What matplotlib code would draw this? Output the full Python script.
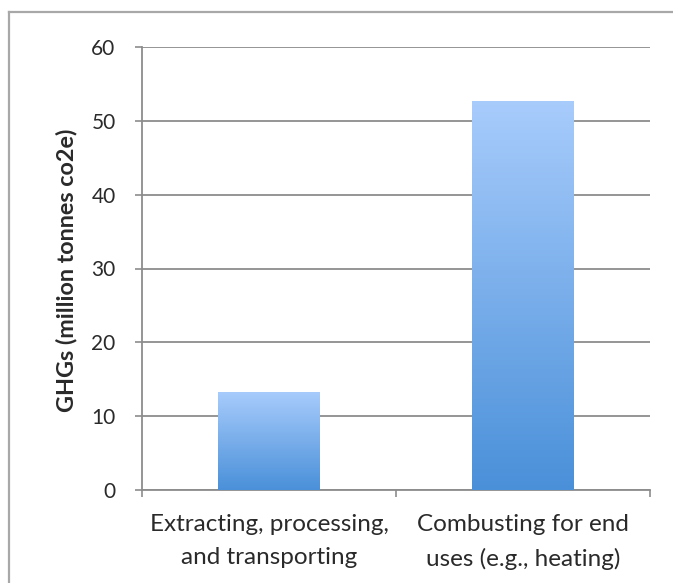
import matplotlib
matplotlib.use("Agg")
import matplotlib.pyplot as plt
import numpy as np
from matplotlib.colors import LinearSegmentedColormap
from matplotlib.lines import Line2D

categories = ["Extracting, processing,\nand transporting",
              "Combusting for end\nuses (e.g., heating)"]
values = [13.3, 52.7]
y_ticks = [0, 10, 20, 30, 40, 50, 60]
y_label = "GHGs (million tonnes co2e)"

plt.rcParams['font.family'] = ['Lato', 'DejaVu Sans']

fig = plt.figure(figsize=(6.73, 5.83), dpi=100)
fig.patch.set_facecolor('white')

# outer frame (left and top edges visible)
frame_col = '#a8a8a8'
fig.add_artist(Line2D([9/673, 9/673], [0, 1 - 12/583], transform=fig.transFigure, color=frame_col, lw=1.6))
fig.add_artist(Line2D([9/673, 1], [1 - 12/583, 1 - 12/583], transform=fig.transFigure, color=frame_col, lw=1.6))

ax = fig.add_axes([142/673, 1 - 490/583, (650 - 142)/673, (490 - 47)/583])

x = np.arange(len(categories))
bars = ax.bar(x, values, width=0.40, color='none', edgecolor='none', zorder=3)

cmap = LinearSegmentedColormap.from_list('g', ['#4a90d9', '#a8ccfc'])
grad = np.linspace(0, 1, 256).reshape(-1, 1)
for b in bars:
    x0, y0 = b.get_x(), b.get_y()
    w, h = b.get_width(), b.get_height()
    im = ax.imshow(grad, cmap=cmap, aspect='auto', origin='lower',
                   extent=[x0, x0 + w, y0, y0 + h], zorder=3)
    im.set_clip_path(b)

ax.set_xlim(-0.5, len(categories) - 0.5)
ax.set_ylim(0, 60)

grid_col = '#8c8c8c'
txt_col = '#2a2a2a'
ax.set_yticks(y_ticks)
ax.set_yticklabels([str(v) for v in y_ticks], fontsize=15, color=txt_col)
ax.yaxis.grid(True, color=grid_col, lw=1.3, zorder=1)
ax.set_axisbelow(True)

ax.set_xticks(np.arange(len(categories) + 1) - 0.5)
ax.set_xticklabels([])
ax.set_xticks(x, minor=True)
ax.set_xticklabels(categories, minor=True, fontsize=17.5, color=txt_col, linespacing=1.72)
ax.tick_params(axis='x', which='minor', length=0, pad=17)
ax.tick_params(axis='x', which='major', length=5, width=1.2, color=grid_col, direction='out')
ax.tick_params(axis='y', length=5, width=1.2, color=grid_col, direction='out', pad=14)

for s in ['top', 'right']:
    ax.spines[s].set_visible(False)
ax.spines['left'].set_color(grid_col)
ax.spines['left'].set_linewidth(1.3)
ax.spines['bottom'].set_color(grid_col)
ax.spines['bottom'].set_linewidth(1.3)

# y-axis title, centred at the reference position
ax.text((67 - 142) / 508, (490 - 270) / 443, y_label, transform=ax.transAxes,
        rotation=90, ha='center', va='center', fontsize=16.8,
        fontweight='bold', color=txt_col)

fig.savefig('out.png', dpi=100, facecolor='white')
